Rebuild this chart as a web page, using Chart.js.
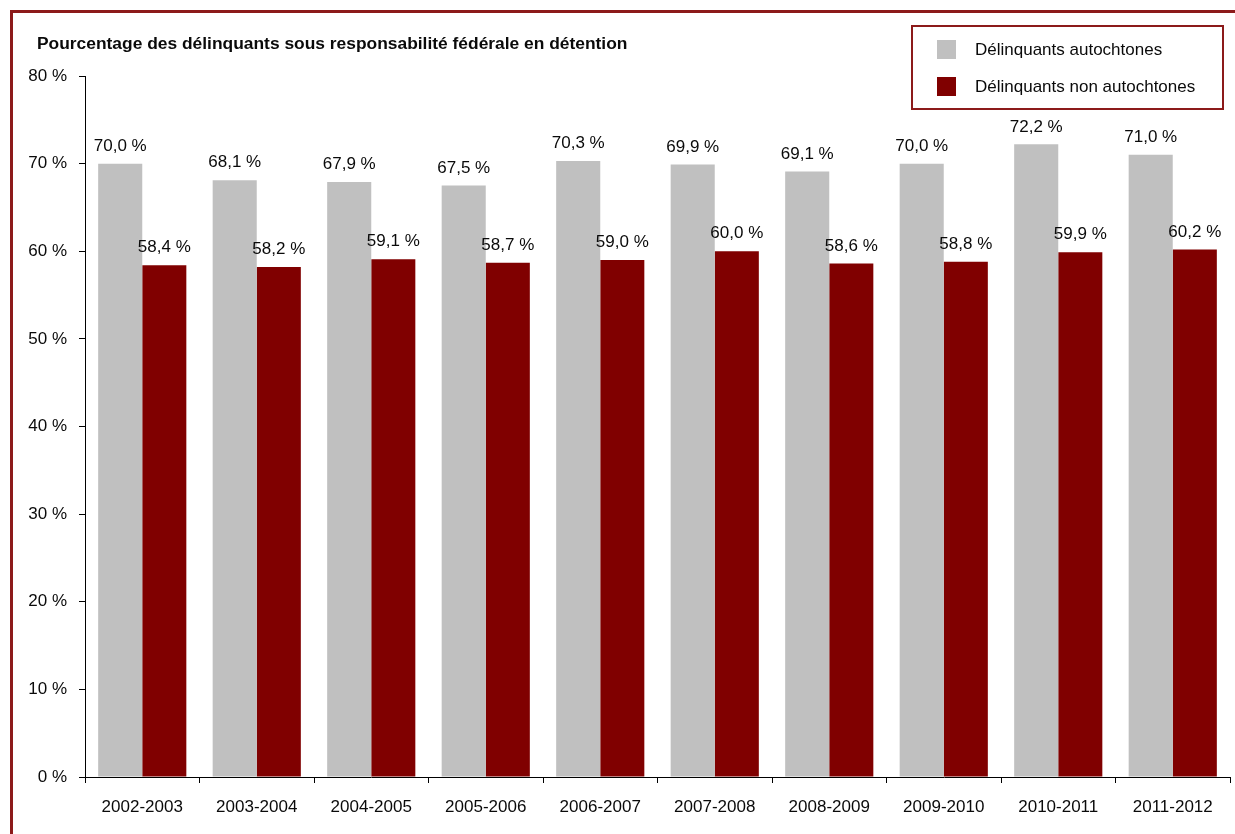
<!DOCTYPE html>
<html lang="fr">
<head>
<meta charset="utf-8">
<title>Pourcentage des délinquants sous responsabilité fédérale en détention</title>
<script src="https://cdn.jsdelivr.net/npm/chart.js@4.4.1/dist/chart.umd.min.js"></script>
<style>
  html, body { margin: 0; padding: 0; background: #ffffff; }
  canvas { display: block; }
</style>
</head>
<body>
<canvas id="chart" width="1235" height="834"></canvas>
<script>
// Exercices financiers
const categories = ['2002-2003', '2003-2004', '2004-2005', '2005-2006', '2006-2007',
                    '2007-2008', '2008-2009', '2009-2010', '2010-2011', '2011-2012'];

// Pourcentage en détention, par groupe
const autochtones    = [70.0, 68.1, 67.9, 67.5, 70.3, 69.9, 69.1, 70.0, 72.2, 71.0];
const nonAutochtones = [58.4, 58.2, 59.1, 58.7, 59.0, 60.0, 58.6, 58.8, 59.9, 60.2];

const seriesLabels = ['Délinquants autochtones', 'Délinquants non autochtones'];
const seriesColors = ['#c0c0c0', '#800000'];

const titleText = 'Pourcentage des délinquants sous responsabilité fédérale en détention';

const FONT = '"Liberation Sans", Arial, sans-serif';
const TEXT = '#0a0a0a';

const fmtPct = v => v.toFixed(1).replace('.', ',') + ' %';

// Cadre extérieur, titre et légende encadrée
const framePlugin = {
  id: 'frame',
  beforeDraw(chart) {
    const ctx = chart.ctx;
    ctx.save();
    ctx.fillStyle = '#ffffff';
    ctx.fillRect(0, 0, chart.width, chart.height);
    ctx.strokeStyle = '#8c1a1a';
    ctx.lineWidth = 3;
    ctx.strokeRect(11.5, 11.5, chart.width + 20, chart.height + 20);
    ctx.restore();
  },
  afterDraw(chart) {
    const ctx = chart.ctx;
    ctx.save();
    // titre
    ctx.fillStyle = TEXT;
    ctx.font = 'bold 17.4px ' + FONT;
    ctx.textAlign = 'left';
    ctx.textBaseline = 'middle';
    ctx.fillText(titleText, 37, 44);

    // légende
    ctx.strokeStyle = '#8c1a1a';
    ctx.lineWidth = 2;
    ctx.strokeRect(912, 26, 311, 83);
    ctx.font = '17px ' + FONT;
    chart.data.datasets.forEach((ds, i) => {
      const y = 49 + i * 37;
      ctx.fillStyle = ds.backgroundColor;
      ctx.fillRect(937, y - 9, 19, 19);
      ctx.fillStyle = TEXT;
      ctx.fillText(ds.label, 975, y + 1);
    });
    ctx.restore();
  }
};

// Étiquettes de valeur au-dessus des barres
const valueLabels = {
  id: 'valueLabels',
  afterDatasetsDraw(chart) {
    const ctx = chart.ctx;
    ctx.save();
    ctx.fillStyle = TEXT;
    ctx.font = '17px ' + FONT;
    ctx.textAlign = 'center';
    ctx.textBaseline = 'bottom';
    chart.data.datasets.forEach((ds, di) => {
      const meta = chart.getDatasetMeta(di);
      meta.data.forEach((bar, i) => {
        ctx.fillText(fmtPct(ds.data[i]), bar.x, bar.y - 9);
      });
    });
    ctx.restore();
  }
};

new Chart(document.getElementById('chart'), {
  type: 'bar',
  data: {
    labels: categories,
    datasets: [
      { label: seriesLabels[0], data: autochtones, backgroundColor: seriesColors[0] },
      { label: seriesLabels[1], data: nonAutochtones, backgroundColor: seriesColors[1] }
    ]
  },
  options: {
    responsive: false,
    animation: false,
    devicePixelRatio: 1,
    layout: { padding: { top: 76, right: 5, left: 0, bottom: 0 } },
    categoryPercentage: 0.77,
    barPercentage: 1.0,
    plugins: {
      legend: { display: false },
      title: { display: false },
      tooltip: { enabled: false }
    },
    scales: {
      x: {
        offset: true,
        afterFit(scale) { scale.height = 57; },
        grid: {
          offset: true,
          drawOnChartArea: false,
          drawTicks: true,
          tickLength: 6,
          color: '#000000'
        },
        border: { display: true, color: '#000000', width: 1 },
        ticks: {
          color: TEXT,
          font: { family: FONT, size: 17 },
          padding: 14,
          maxRotation: 0,
          autoSkip: false
        }
      },
      y: {
        min: 0,
        max: 80,
        afterFit(scale) { scale.width = 85; },
        grid: {
          drawOnChartArea: false,
          drawTicks: true,
          tickLength: 6,
          color: '#000000'
        },
        border: { display: true, color: '#000000', width: 1 },
        ticks: {
          stepSize: 10,
          color: TEXT,
          font: { family: FONT, size: 17 },
          padding: 12,
          callback: v => v + ' %'
        }
      }
    }
  },
  plugins: [framePlugin, valueLabels]
});
</script>
</body>
</html>
